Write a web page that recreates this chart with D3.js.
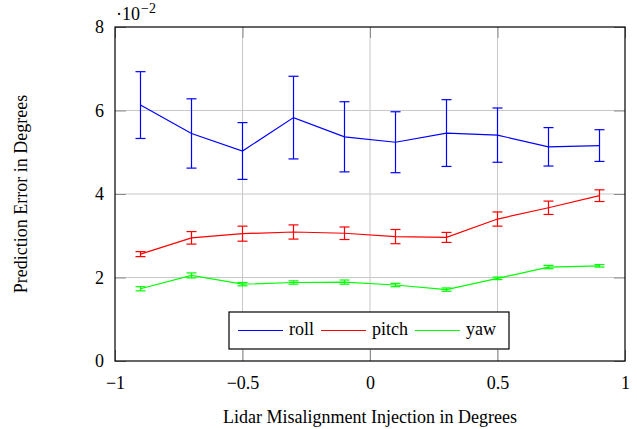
<!DOCTYPE html>
<html>
<head>
	<title></title>
	<style>
		body { margin: 0; background: #fff; }
		text { font-family: "Liberation Serif", "DejaVu Serif", serif; }
	</style>
</head>
<body>

<svg id="chart" width="637" height="429"></svg>

<script src="https://d3js.org/d3.v7.min.js"></script>
<script>
	// -------------------------------------------------------------
	// Data (values in degrees)

	const injection = [-0.9, -0.7, -0.5, -0.3, -0.1, 0.1, 0.3, 0.5, 0.7, 0.9]

	const roll     = [0.0613, 0.0545, 0.0503, 0.0583, 0.0537, 0.0524, 0.0546, 0.0541, 0.0513, 0.0516]
	const rollErr  = [0.0080, 0.0083, 0.0068, 0.0099, 0.0084, 0.0073, 0.0080, 0.0065, 0.0046, 0.0038]
	const pitch    = [0.0256, 0.0295, 0.0305, 0.0309, 0.0306, 0.0298, 0.0296, 0.0340, 0.0367, 0.0396]
	const pitchErr = [0.0006, 0.0015, 0.0018, 0.0017, 0.0015, 0.0017, 0.0012, 0.0017, 0.0016, 0.0014]
	const yaw      = [0.0173, 0.0205, 0.0184, 0.0188, 0.0189, 0.0182, 0.0171, 0.0198, 0.0225, 0.0228]
	const yawErr   = [0.0005, 0.0006, 0.0004, 0.0004, 0.0005, 0.0004, 0.0004, 0.0003, 0.0004, 0.0003]

	const xTicks = [-1, -0.5, 0, 0.5, 1]
	const xTickLabels = ['\u22121', '\u22120.5', '0', '0.5', '1']
	const yTicks = [0, 0.02, 0.04, 0.06, 0.08]
	const yTickLabels = ['0', '2', '4', '6', '8']

	const series = [
		{ name: 'roll',  values: roll,  err: rollErr,  color: '#0000ff' },
		{ name: 'pitch', values: pitch, err: pitchErr, color: '#ff0000' },
		{ name: 'yaw',   values: yaw,   err: yawErr,   color: '#00ff00' }
	]

	// -------------------------------------------------------------
	// Layout

	const plotLeft = 115, plotRight = 625, plotTop = 27, plotBottom = 361

	const xScale = d3.scaleLinear().domain([-1, 1]).range([plotLeft, plotRight])
	const yScale = d3.scaleLinear().domain([0, 0.08]).range([plotBottom, plotTop])

	const svg = d3.select('#chart')

	// grid lines (only the inner ones)
	svg.append('g')
		.selectAll('line')
		.data(xTicks.slice(1, -1))
		.enter()
		.append('line')
		.attr('x1', d => xScale(d)).attr('x2', d => xScale(d))
		.attr('y1', plotTop).attr('y2', plotBottom)
		.attr('stroke', '#c8c8c8')

	svg.append('g')
		.selectAll('line')
		.data(yTicks.slice(1, -1))
		.enter()
		.append('line')
		.attr('x1', plotLeft).attr('x2', plotRight)
		.attr('y1', d => yScale(d)).attr('y2', d => yScale(d))
		.attr('stroke', '#c8c8c8')

	// inward tick marks on all four sides, labels on bottom and left
	const tickLen = 11
	const bottomAxis = d3.axisBottom(xScale)
		.tickValues(xTicks)
		.tickSizeInner(-tickLen).tickSizeOuter(0).tickPadding(11)
		.tickFormat((d, i) => xTickLabels[i])
	const topAxis = d3.axisTop(xScale)
		.tickValues(xTicks).tickSizeInner(-tickLen).tickSizeOuter(0).tickFormat('')
	const leftAxis = d3.axisLeft(yScale)
		.tickValues(yTicks)
		.tickSizeInner(-tickLen).tickSizeOuter(0).tickPadding(11)
		.tickFormat((d, i) => yTickLabels[i])
	const rightAxis = d3.axisRight(yScale)
		.tickValues(yTicks).tickSizeInner(-tickLen).tickSizeOuter(0).tickFormat('')

	const axes = [
		svg.append('g').attr('transform', `translate(0, ${plotBottom})`).call(bottomAxis),
		svg.append('g').attr('transform', `translate(0, ${plotTop})`).call(topAxis),
		svg.append('g').attr('transform', `translate(${plotLeft}, 0)`).call(leftAxis),
		svg.append('g').attr('transform', `translate(${plotRight}, 0)`).call(rightAxis)
	]
	axes.forEach(a => {
		a.attr('font-family', null).attr('font-size', null)
		a.select('.domain').remove()
		a.selectAll('.tick line').attr('stroke', '#8c8c8c')
		a.selectAll('.tick text')
			.attr('fill', '#000')
			.style('font-family', '"Liberation Serif", serif')
			.style('font-size', '18px')
	})
	axes[0].selectAll('.tick text').attr('dy', '0.95em')
	axes[2].selectAll('.tick text').attr('dy', '0.33em')

	// series: line + error bars
	const line = d3.line()
		.x((d, i) => xScale(injection[i]))
		.y(d => yScale(d))

	series.forEach(s => {
		const g = svg.append('g')

		g.append('path')
			.datum(s.values)
			.attr('d', line)
			.attr('fill', 'none')
			.attr('stroke', s.color)
			.attr('stroke-width', 1.2)

		const bars = g.selectAll('g.bar')
			.data(s.values)
			.enter()
			.append('g')

		bars.append('line')
			.attr('x1', (d, i) => xScale(injection[i]))
			.attr('x2', (d, i) => xScale(injection[i]))
			.attr('y1', (d, i) => yScale(d - s.err[i]))
			.attr('y2', (d, i) => yScale(d + s.err[i]))
			.attr('stroke', s.color).attr('stroke-width', 1.2)

		// caps
		;[-1, 1].forEach(sign => {
			bars.append('line')
				.attr('x1', (d, i) => xScale(injection[i]) - 5)
				.attr('x2', (d, i) => xScale(injection[i]) + 5)
				.attr('y1', (d, i) => yScale(d + sign * s.err[i]))
				.attr('y2', (d, i) => yScale(d + sign * s.err[i]))
				.attr('stroke', s.color).attr('stroke-width', 1.2)
		})
	})

	// frame
	svg.append('rect')
		.attr('x', plotLeft).attr('y', plotTop)
		.attr('width', plotRight - plotLeft).attr('height', plotBottom - plotTop)
		.attr('fill', 'none').attr('stroke', '#000').attr('stroke-width', 1.2)

	// scale note ·10^-2
	const note = svg.append('text')
		.attr('x', 116).attr('y', 20)
		.style('font-size', '18px')
	note.append('tspan').text('\u00b710')
	note.append('tspan').attr('dx', 1).attr('dy', -7).style('font-size', '14px').text('\u22122')

	// axis titles
	svg.append('text')
		.attr('x', (plotLeft + plotRight) / 2).attr('y', 423)
		.attr('text-anchor', 'middle')
		.style('font-size', '18px')
		.text('Lidar Misalignment Injection in Degrees')

	svg.append('text')
		.attr('transform', `translate(27, ${(plotTop + plotBottom) / 2}) rotate(-90)`)
		.attr('text-anchor', 'middle')
		.style('font-size', '18px')
		.text('Prediction Error in Degrees')

	// legend
	const legend = svg.append('g')
	legend.append('rect')
		.attr('x', 229).attr('y', 312)
		.attr('width', 280).attr('height', 37)
		.attr('fill', '#fff').attr('stroke', '#000').attr('stroke-width', 1.2)

	let lx = 238
	series.forEach(s => {
		legend.append('line')
			.attr('x1', lx).attr('x2', lx + 45)
			.attr('y1', 330.5).attr('y2', 330.5)
			.attr('stroke', s.color).attr('stroke-width', 1.2)
		const t = legend.append('text')
			.attr('x', lx + 51).attr('y', 335)
			.style('font-size', '18px')
			.text(s.name)
		lx += 51 + t.node().getComputedTextLength() + 7
	})
</script>
</body>
</html>
